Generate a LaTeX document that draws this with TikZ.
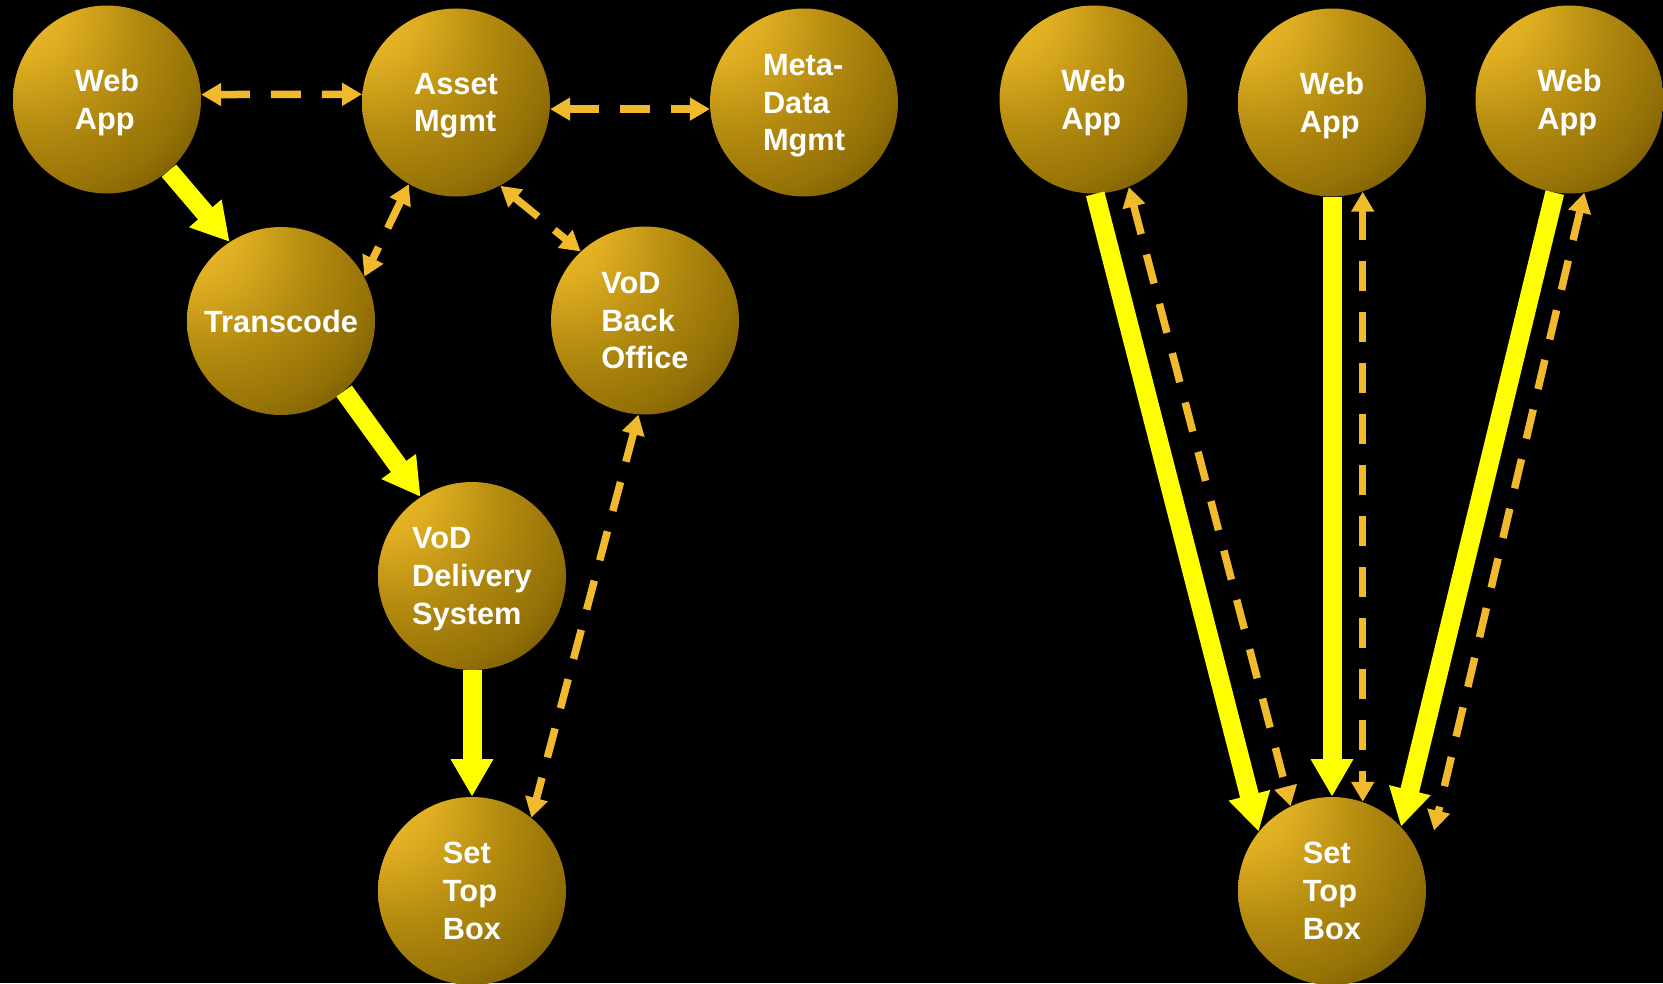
\documentclass[tikz,border=0pt]{standalone}
\usepackage{fontspec}
\setmainfont{Liberation Sans}
\usetikzlibrary{arrows.meta,positioning,calc}
\definecolor{feedyellow}{RGB}{255,255,0}
\definecolor{linkgold}{RGB}{240,186,44}
\definecolor{goldA}{RGB}{242,196,52}
\definecolor{goldB}{RGB}{224,174,34}
\definecolor{goldC}{RGB}{178,138,15}
\definecolor{goldD}{RGB}{148,113,7}
\definecolor{goldE}{RGB}{106,80,2}
\definecolor{goldF}{RGB}{50,38,0}
\definecolor{goldG}{RGB}{20,14,0}
\pgfdeclareradialshading{goldball}{\pgfpoint{-30bp}{30bp}}{%
  color(0bp)=(goldA); color(14bp)=(goldB); color(28bp)=(goldC);
  color(40bp)=(goldD); color(50bp)=(goldE); color(58bp)=(goldF);
  color(80bp)=(goldG)}

\begin{document}
\begin{tikzpicture}
[sphere/.style={circle,minimum size=3.76cm,inner sep=0pt,
  shading=goldball,text=white,align=left,text depth=0pt,
  font=\bfseries\fontsize{17.5}{21.5}\selectfont},
feed/.style={draw=feedyellow,line width=0.38cm,
  -{Triangle[width=0.8cm,length=0.75cm]}},
link/.style={draw=linkgold,line width=0.15cm,dash pattern=on 0.6cm off 0.42cm,
  {Triangle[width=0.44cm,length=0.4cm]}-{Triangle[width=0.44cm,length=0.4cm]}}]
\fill[black] (0,0) rectangle (33.26,-19.66);
\useasboundingbox (0,0) rectangle (33.26,-19.66);

\node[sphere] (webL) at (2.14,-1.99) {Web\\App};
\node[sphere] (asset) at (9.12,-2.05) {Asset\\Mgmt};
\node[sphere] (meta) at (16.08,-2.05) {Meta-\\Data\\Mgmt};
\node[sphere] (trans) at (5.62,-6.42) {Transcode};
\node[sphere] (vbo) at (12.9,-6.41) {VoD\\Back\\Office};
\node[sphere] (vodd) at (9.44,-11.52) {VoD\\Delivery\\System};
\node[sphere] (stbL) at (9.44,-17.82) {Set\\Top\\Box};

\node[sphere] (webA) at (21.87,-1.99) {Web\\App};
\node[sphere] (webB) at (26.64,-2.05) {Web\\App};
\node[sphere] (webC) at (31.39,-1.99) {Web\\App};
\node[sphere] (stbR) at (26.64,-17.82) {Set\\Top\\Box};

\draw[feed] (webL.311) -- (trans.123);
\draw[feed] (trans.312) -- (vodd.123);
\draw[feed] (vodd.south) -- (stbL.north);
\draw[link] (webL.3) -- (asset.175);
\draw[link] (asset.-4) -- (meta.184);
\draw[link] (asset.240) -- (trans.28);
\draw[link] (asset.298) -- (vbo.133);
\draw[link] (vbo.266) -- (stbL.51);

\draw[feed] (webA.271) -- (stbR.141);
\draw[link] (webA.292) -- (stbR.116);
\draw[feed] (webB.south) -- (stbR.north);
\draw[link] (webB.289) -- (stbR.71);
\draw[feed] (webC.261) -- (stbR.43);
\draw[link] (webC.279) -- ($(stbR)+(2.04,1.21)$);
\end{tikzpicture}
\end{document}
